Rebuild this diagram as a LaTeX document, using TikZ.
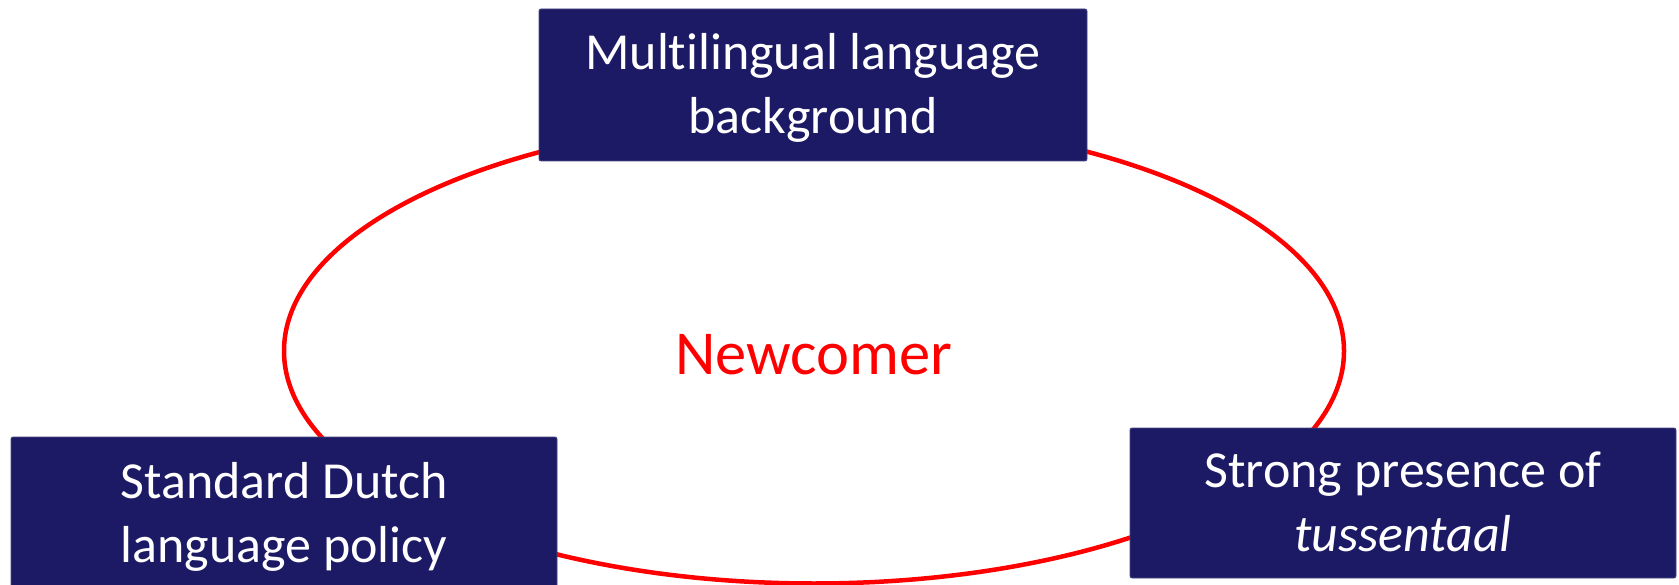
\documentclass[tikz,border=0pt]{standalone}
\usepackage{fontspec}
\setmainfont[Ligatures=NoCommon]{Carlito}
\usetikzlibrary{shapes.geometric}
\definecolor{navy}{RGB}{28,26,100}
\definecolor{ringred}{RGB}{255,0,0}
\begin{document}
\begin{tikzpicture}[x=1pt,y=-1pt,
  factorbox/.style={draw=navy!80!white, line width=0.8pt, fill=navy, rounded corners=2pt},
  factortext/.style={text=white, align=center, font=\fontsize{52}{64}\selectfont},
  ring/.style={draw=ringred, line width=4.5pt}]
\useasboundingbox (0,0) rectangle (1679,585);
\node[ring, ellipse, minimum width=1060pt, minimum height=465pt, inner sep=0pt] (ring) at (814,351) {};
% boxes
\path[factorbox] (539,9) rectangle (1087,161);
\node[factortext] (top) at (813,88) {Multilingual language\\background};
\path[factorbox] (11,437) rectangle (557,600);
\node[factortext] (left) at (284,517) {Standard Dutch\\language policy};
\path[factorbox] (1130,428) rectangle (1676,578);
\node[factortext] (right) at (1403,502) {Strong presence of\\\textit{tussentaal}};
\node[text=ringred, font=\fontsize{62.5}{75}\selectfont] (center) at (814,355) {Newcomer};
\end{tikzpicture}
\end{document}
